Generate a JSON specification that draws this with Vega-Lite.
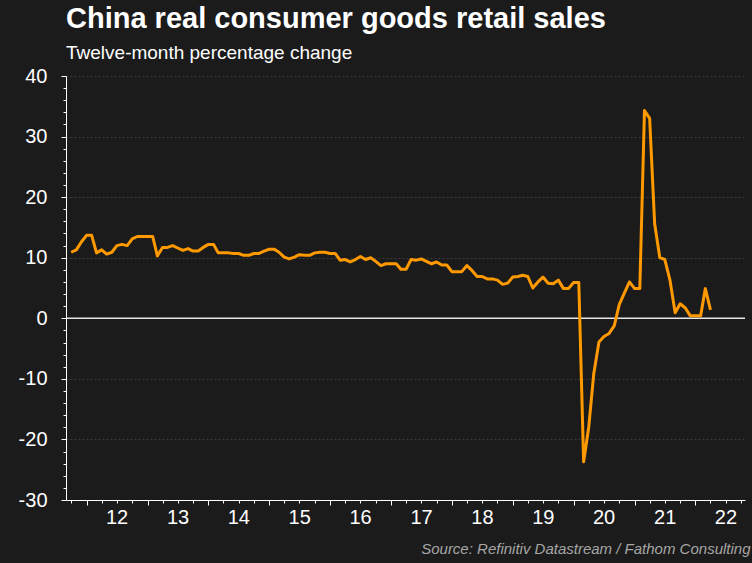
{
  "$schema": "https://vega.github.io/schema/vega-lite/v6.json",
  "width": 679,
  "height": 424,
  "autosize": {"type": "none"},
  "padding": {"left": 66, "top": 76, "right": 7, "bottom": 63},
  "background": "#1b1b1b",
  "title": {
    "text": "China real consumer goods retail sales",
    "subtitle": "Twelve-month percentage change",
    "anchor": "start",
    "frame": "group",
    "offset": 3,
    "font": "Liberation Sans",
    "fontSize": 29,
    "fontWeight": "bold",
    "color": "#ffffff",
    "subtitleFont": "Liberation Sans",
    "subtitleFontSize": 19,
    "subtitleColor": "#ffffff",
    "subtitlePadding": 10
  },
  "config": {
    "view": {"stroke": null},
    "axis": {
      "domainColor": "#ffffff",
      "domainWidth": 1,
      "tickColor": "#ffffff",
      "tickWidth": 1,
      "labelColor": "#ffffff",
      "labelFont": "Liberation Sans",
      "labelFontSize": 20,
      "labelOverlap": false,
      "labelFlush": false,
      "labelBound": false
    }
  },
  "data": {
    "values": [
      {"date": "2011-10-01", "v": 10.9},
      {"date": "2011-11-01", "v": 11.3},
      {"date": "2011-12-01", "v": 12.6},
      {"date": "2012-01-01", "v": 13.7},
      {"date": "2012-02-01", "v": 13.7},
      {"date": "2012-03-01", "v": 10.8},
      {"date": "2012-04-01", "v": 11.3},
      {"date": "2012-05-01", "v": 10.6},
      {"date": "2012-06-01", "v": 10.9},
      {"date": "2012-07-01", "v": 12.0},
      {"date": "2012-08-01", "v": 12.2},
      {"date": "2012-09-01", "v": 12.0},
      {"date": "2012-10-01", "v": 13.1},
      {"date": "2012-11-01", "v": 13.5},
      {"date": "2012-12-01", "v": 13.5},
      {"date": "2013-01-01", "v": 13.5},
      {"date": "2013-02-01", "v": 13.5},
      {"date": "2013-03-01", "v": 10.3},
      {"date": "2013-04-01", "v": 11.7},
      {"date": "2013-05-01", "v": 11.7},
      {"date": "2013-06-01", "v": 12.0},
      {"date": "2013-07-01", "v": 11.6},
      {"date": "2013-08-01", "v": 11.2},
      {"date": "2013-09-01", "v": 11.5},
      {"date": "2013-10-01", "v": 11.1},
      {"date": "2013-11-01", "v": 11.1},
      {"date": "2013-12-01", "v": 11.7},
      {"date": "2014-01-01", "v": 12.2},
      {"date": "2014-02-01", "v": 12.2},
      {"date": "2014-03-01", "v": 10.8},
      {"date": "2014-04-01", "v": 10.8},
      {"date": "2014-05-01", "v": 10.8},
      {"date": "2014-06-01", "v": 10.7},
      {"date": "2014-07-01", "v": 10.7},
      {"date": "2014-08-01", "v": 10.4},
      {"date": "2014-09-01", "v": 10.4},
      {"date": "2014-10-01", "v": 10.7},
      {"date": "2014-11-01", "v": 10.7},
      {"date": "2014-12-01", "v": 11.1},
      {"date": "2015-01-01", "v": 11.4},
      {"date": "2015-02-01", "v": 11.4},
      {"date": "2015-03-01", "v": 10.9},
      {"date": "2015-04-01", "v": 10.1},
      {"date": "2015-05-01", "v": 9.8},
      {"date": "2015-06-01", "v": 10.1},
      {"date": "2015-07-01", "v": 10.5},
      {"date": "2015-08-01", "v": 10.4},
      {"date": "2015-09-01", "v": 10.4},
      {"date": "2015-10-01", "v": 10.8},
      {"date": "2015-11-01", "v": 10.9},
      {"date": "2015-12-01", "v": 10.9},
      {"date": "2016-01-01", "v": 10.7},
      {"date": "2016-02-01", "v": 10.7},
      {"date": "2016-03-01", "v": 9.6},
      {"date": "2016-04-01", "v": 9.7},
      {"date": "2016-05-01", "v": 9.3},
      {"date": "2016-06-01", "v": 9.7},
      {"date": "2016-07-01", "v": 10.2},
      {"date": "2016-08-01", "v": 9.7},
      {"date": "2016-09-01", "v": 10.0},
      {"date": "2016-10-01", "v": 9.4},
      {"date": "2016-11-01", "v": 8.7},
      {"date": "2016-12-01", "v": 9.0},
      {"date": "2017-01-01", "v": 9.0},
      {"date": "2017-02-01", "v": 9.0},
      {"date": "2017-03-01", "v": 8.1},
      {"date": "2017-04-01", "v": 8.1},
      {"date": "2017-05-01", "v": 9.7},
      {"date": "2017-06-01", "v": 9.6},
      {"date": "2017-07-01", "v": 9.8},
      {"date": "2017-08-01", "v": 9.4},
      {"date": "2017-09-01", "v": 9.0},
      {"date": "2017-10-01", "v": 9.3},
      {"date": "2017-11-01", "v": 8.8},
      {"date": "2017-12-01", "v": 8.8},
      {"date": "2018-01-01", "v": 7.7},
      {"date": "2018-02-01", "v": 7.7},
      {"date": "2018-03-01", "v": 7.7},
      {"date": "2018-04-01", "v": 8.7},
      {"date": "2018-05-01", "v": 7.9},
      {"date": "2018-06-01", "v": 6.9},
      {"date": "2018-07-01", "v": 6.9},
      {"date": "2018-08-01", "v": 6.5},
      {"date": "2018-09-01", "v": 6.5},
      {"date": "2018-10-01", "v": 6.3},
      {"date": "2018-11-01", "v": 5.6},
      {"date": "2018-12-01", "v": 5.8},
      {"date": "2019-01-01", "v": 6.8},
      {"date": "2019-02-01", "v": 6.9},
      {"date": "2019-03-01", "v": 7.1},
      {"date": "2019-04-01", "v": 6.9},
      {"date": "2019-05-01", "v": 5.0},
      {"date": "2019-06-01", "v": 6.0},
      {"date": "2019-07-01", "v": 6.8},
      {"date": "2019-08-01", "v": 5.8},
      {"date": "2019-09-01", "v": 5.7},
      {"date": "2019-10-01", "v": 6.3},
      {"date": "2019-11-01", "v": 4.9},
      {"date": "2019-12-01", "v": 4.9},
      {"date": "2020-01-01", "v": 5.9},
      {"date": "2020-02-01", "v": 5.9},
      {"date": "2020-03-01", "v": -23.7},
      {"date": "2020-04-01", "v": -17.9},
      {"date": "2020-05-01", "v": -9.1},
      {"date": "2020-06-01", "v": -3.9},
      {"date": "2020-07-01", "v": -3.0},
      {"date": "2020-08-01", "v": -2.5},
      {"date": "2020-09-01", "v": -1.2},
      {"date": "2020-10-01", "v": 2.3},
      {"date": "2020-11-01", "v": 4.2},
      {"date": "2020-12-01", "v": 6.0},
      {"date": "2021-01-01", "v": 4.9},
      {"date": "2021-02-01", "v": 4.9},
      {"date": "2021-03-01", "v": 34.3},
      {"date": "2021-04-01", "v": 33.0},
      {"date": "2021-05-01", "v": 15.6},
      {"date": "2021-06-01", "v": 10.0},
      {"date": "2021-07-01", "v": 9.7},
      {"date": "2021-08-01", "v": 6.3},
      {"date": "2021-09-01", "v": 0.9},
      {"date": "2021-10-01", "v": 2.4},
      {"date": "2021-11-01", "v": 1.7},
      {"date": "2021-12-01", "v": 0.4},
      {"date": "2022-01-01", "v": 0.4},
      {"date": "2022-02-01", "v": 0.4},
      {"date": "2022-03-01", "v": 4.9},
      {"date": "2022-04-01", "v": 1.4}
    ]
  },
  "layer": [
    {
      "data": {"values": [{}]},
      "mark": {"type": "rule", "color": "#e6e6e6", "strokeWidth": 1.5},
      "encoding": {"y": {"datum": 0, "type": "quantitative"}}
    },
    {
      "mark": {"type": "line", "color": "#ff9900", "strokeWidth": 3, "strokeJoin": "round"},
      "encoding": {
        "x": {
          "field": "date",
          "type": "temporal",
          "scale": {
            "type": "utc",
            "domain": [
              {"year": 2011, "month": 8, "date": 31, "utc": true},
              {"year": 2022, "month": 10, "date": 25, "utc": true}
            ]
          },
          "axis": {
            "title": "Source: Refinitiv Datastream / Fathom Consulting",
            "titleFont": "Liberation Sans",
            "titleFontSize": 15,
            "titleFontStyle": "italic",
            "titleFontWeight": "normal",
            "titleColor": "#a6a6a6",
            "titleAlign": "right",
            "titleBaseline": "alphabetic",
            "titleAnchor": "end",
            "titleX": 684,
            "titleY": 53,
            "tickCount": {"interval": "month", "step": 3},
            "labelExpr": "utcmonth(datum.value) === 0 ? utcFormat(datum.value, '%y') : ''",
            "labelOffset": 30,
            "labelPadding": 2,
            "tickSize": {"condition": {"test": "utcmonth(datum.value) === 0", "value": 5}, "value": 3},
            "grid": false
          }
        },
        "y": {
          "field": "v",
          "type": "quantitative",
          "scale": {"domain": [-30, 40], "nice": false, "zero": false},
          "axis": {
            "title": null,
            "tickCount": 100,
            "values": [-30, -28, -26, -24, -22, -20, -18, -16, -14, -12, -10, -8, -6, -4, -2, 0, 2, 4, 6, 8, 10, 12, 14, 16, 18, 20, 22, 24, 26, 28, 30, 32, 34, 36, 38, 40],
            "labelExpr": "datum.value % 10 === 0 ? ('' + datum.value) : ''",
            "labelPadding": 14,
            "tickSize": {"condition": {"test": "datum.value % 10 === 0", "value": 5}, "value": 3},
            "grid": true,
            "gridColor": "#3c3c3c",
            "gridDash": [2, 2],
            "gridWidth": 1,
            "gridOpacity": {"condition": {"test": "datum.value % 10 === 0 && datum.value !== 0 && datum.value !== -30", "value": 1}, "value": 0}
          }
        }
      }
    }
  ]
}
